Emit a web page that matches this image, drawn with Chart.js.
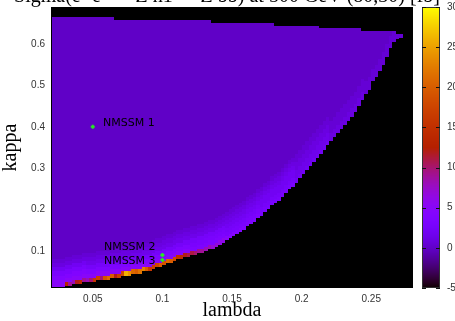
<!DOCTYPE html>
<html><head><meta charset="utf-8">
<script src="https://cdn.jsdelivr.net/npm/chart.js@4/dist/chart.umd.min.js"></script>
<style>html,body{margin:0;padding:0;background:#fff;overflow:hidden}canvas{display:block}</style>
</head><body><canvas id="c" width="455" height="321"></canvas>
<script>
// ---------- data ----------
const titleText = "Sigma(e+e- -> Z h1 -> Z bb) at 500 GeV (80,30) [fb]";
const xTicks = [0.05, 0.1, 0.15, 0.2, 0.25];
const yTicks = [0.1, 0.2, 0.3, 0.4, 0.5, 0.6];
const cbTicks = [-5, 0, 5, 10, 15, 20, 25, 30];
const lambdaRange = [0.02, 0.28];
const kappaRange = [0.01, 0.69];
const colorRange = [-5, 30];
const lambdaGridStart = 0.02;
const lambdaGridStep = 0.0025;
const kappaCell = 0.01;
// lower edge (kappa) of the allowed region, one value per lambda column
const kappaLow = [
  0.01,0.01,0.01,0.01,0.015,0.015,0.02,0.02,0.02,0.025,
  0.025,0.025,0.025,0.03,0.03,0.03,0.03,0.035,0.035,0.035,
  0.04,0.04,0.04,0.045,0.045,0.045,0.05,0.05,0.05,0.055,
  0.06,0.06,0.065,0.07,0.07,0.075,0.08,0.08,0.085,0.085,
  0.09,0.09,0.095,0.095,0.10,0.105,0.105,0.11,0.115,0.12,
  0.125,0.13,0.135,0.14,0.145,0.15,0.16,0.165,0.17,0.18,
  0.185,0.195,0.20,0.21,0.215,0.22,0.23,0.24,0.25,0.255,
  0.265,0.275,0.285,0.295,0.305,0.315,0.325,0.335,0.345,0.355,
  0.365,0.375,0.385,0.395,0.405,0.415,0.425,0.435,0.45,0.465,
  0.48,0.49,0.51,0.52,0.535,0.55,0.57,0.59,0.605,0.612,
  0.615
];
// upper edge (kappa) of the allowed region, as steps in lambda
const kappaTopUntil = [0.0645, 0.1355, 0.179, 0.212, 0.242, 0.267, 0.2725];
const kappaTopValue = [0.665, 0.659, 0.652, 0.644, 0.638, 0.631, 0.624];
// sigma [fb] in the cell just above the lower edge, one per column
const edgeValues = [
  5,5,5,5,13,9,8,12,14,9,
  8,10,16,17,10,19,21,20,12,17,
  18,26,24,21,20,22,23,20,16,17,
  18,20,19,21,20,18,15,14,12,11,
  11,10,9,9,8,8,7,7,6,6,
  5,4.5,4.5,4,4,4,3.5,3.5,3.5,3.5,
  3,3,3,3,3,3,3,3,3,3,
  2,2,2,2,2,2,2,2,2,2,
  1,1,1,1,1,1,1,1,1,1,
  0.5,0.5,0.5,0.5,0.5,0.5,0.5,0.5,0.5,0.5,
  0.5
];
// sigma [fb] in the cells above the edge cell, per lambda band of 10 columns
const glowValues = [
  [5,4,3,2,1,0.5],
  [5,3.5,2.5,1.5,1,0.5],
  [5,3.5,2.5,1.5,1,0.5],
  [4.5,3.5,2.5,1.5,1,0.5],
  [3.5,3,2.5,1.5,1,0.5],
  [3,2.5,2,1.5,1,0.5],
  [2.5,2,2,1.5,1,0.5],
  [1.5,1.5,1,1,0.5,0.5],
  [1,0.5,0.5,0.5,0,0],
  [0.5,0.5,0,0,0,0],
  [0.5,0,0,0,0,0]
];
const bulkValue = 0;
const pointNames = ["NMSSM 1", "NMSSM 2", "NMSSM 3"];
const pointLambda = [0.05, 0.1, 0.1];
const pointKappa = [0.40, 0.09, 0.078];
const labelLambda = [0.0574, 0.058, 0.058];
const labelKappa = [0.4095, 0.109, 0.0754];

// ---------- drawing ----------
function palette(v) {
  let x = (v - colorRange[0]) / (colorRange[1] - colorRange[0]);
  x = Math.max(0, Math.min(1, x));
  const r = Math.sqrt(x), g = x * x * x, b = Math.max(0, Math.sin(2 * Math.PI * x));
  return 'rgb(' + Math.round(r * 255) + ',' + Math.round(g * 255) + ',' + Math.round(b * 255) + ')';
}
function topFor(lc) {
  for (let j = 0; j < kappaTopUntil.length; j++) if (lc < kappaTopUntil[j]) return kappaTopValue[j];
  return null;
}

const heatmap = {
  id: 'heatmap',
  beforeDatasetsDraw(chart) {
    const {ctx, chartArea: a, scales: {x, y}} = chart;
    ctx.save();
    ctx.fillStyle = '#000';
    ctx.fillRect(a.left, a.top, a.right - a.left, a.bottom - a.top);
    ctx.beginPath(); ctx.rect(a.left, a.top, a.right - a.left, a.bottom - a.top); ctx.clip();
    const rect = (l0, l1, k0, k1, v) => {
      const px0 = Math.round(x.getPixelForValue(l0)), px1 = Math.round(x.getPixelForValue(l1));
      const py0 = Math.round(y.getPixelForValue(k1)), py1 = Math.round(y.getPixelForValue(k0));
      if (py1 <= py0) return;
      ctx.fillStyle = palette(v);
      ctx.fillRect(px0, py0, px1 - px0, py1 - py0);
    };
    for (let i = 0; i < kappaLow.length; i++) {
      const l0 = lambdaGridStart + i * lambdaGridStep, l1 = l0 + lambdaGridStep;
      const kTop = topFor(l0 + lambdaGridStep / 2);
      if (kTop === null) continue;
      const kLo = kappaLow[i];
      rect(l0, l1, kLo, kTop, bulkValue);
      const g = glowValues[Math.floor(i / 10)];
      for (let r = g.length - 1; r >= 0; r--) {
        const k0 = kLo + kappaCell * (r + 1), k1 = Math.min(kTop, k0 + kappaCell);
        if (k0 < kTop) rect(l0, l1, k0, k1, g[r]);
      }
      rect(l0, l1, kLo, Math.min(kTop, kLo + kappaCell), edgeValues[i]);
    }
    ctx.restore();
  },
  afterDatasetsDraw(chart) {
    const {ctx, chartArea: a, scales: {x, y, cb}} = chart;
    ctx.save();
    // point labels
    ctx.font = '11px "DejaVu Sans"';
    ctx.fillStyle = '#000';
    ctx.textAlign = 'left';
    ctx.textBaseline = 'middle';
    pointNames.forEach((n, i) => ctx.fillText(n, x.getPixelForValue(labelLambda[i]), y.getPixelForValue(labelKappa[i])));
    // frame
    ctx.strokeStyle = '#000';
    ctx.lineWidth = 1;
    ctx.strokeRect(a.left + 0.5, a.top + 0.5, a.right - a.left - 1, a.bottom - a.top - 1);
    // colour box
    const bx = 422, bw = 18;
    const t = Math.round(cb.getPixelForValue(colorRange[1])), b = Math.round(cb.getPixelForValue(colorRange[0]));
    for (let py = t; py < b; py++) {
      ctx.fillStyle = palette(cb.getValueForPixel(py + 0.5));
      ctx.fillRect(bx, py, bw, 1);
    }
    ctx.strokeStyle = '#333';
    ctx.strokeRect(bx + 0.5, t + 0.5, bw - 1, b - t - 1);
    ctx.strokeStyle = '#111';
    cbTicks.forEach(v => {
      const py = Math.round(cb.getPixelForValue(v)) + 0.5;
      ctx.beginPath();
      ctx.moveTo(bx, py); ctx.lineTo(bx + 4, py);
      ctx.moveTo(bx + bw - 4, py); ctx.lineTo(bx + bw, py);
      ctx.stroke();
    });
    // title
    ctx.font = '20px "Liberation Serif"';
    ctx.fillStyle = '#000';
    ctx.textAlign = 'center';
    ctx.textBaseline = 'alphabetic';
    ctx.fillText(titleText, 227, 2);
    ctx.restore();
  }
};

const tickFont = {family: '"Liberation Sans", Arial, sans-serif', size: 10};
const fixTicks = arr => (s => { s.ticks = arr.map(v => ({value: v})); });
const fmt = v => String(Math.round(v * 1000) / 1000);
const fitV = w => (s => { s.width = w; s.paddingTop = 0; s.paddingBottom = 0; });

new Chart(document.getElementById('c'), {
  type: 'scatter',
  data: {
    datasets: [{
      data: pointLambda.map((l, i) => ({x: l, y: pointKappa[i]})),
      pointStyle: 'cross',
      radius: 2,
      borderWidth: 2,
      borderColor: 'rgb(40,230,40)',
      backgroundColor: 'rgb(40,230,40)'
    }]
  },
  plugins: [heatmap],
  options: {
    responsive: false,
    animation: false,
    devicePixelRatio: 1,
    layout: {padding: {top: 7, left: 0, right: 0, bottom: 0}},
    plugins: {legend: {display: false}, tooltip: {enabled: false}, title: {display: false}},
    scales: {
      x: {
        type: 'linear', min: lambdaRange[0], max: lambdaRange[1],
        grid: {display: false, drawTicks: false}, border: {display: false},
        afterBuildTicks: fixTicks(xTicks),
        afterFit: s => { s.height = 33; s.paddingLeft = 0; s.paddingRight = 0; },
        ticks: {font: tickFont, color: '#333', padding: 5, maxRotation: 0, autoSkip: false, callback: fmt},
        title: {display: true, text: 'lambda', color: '#000', font: {family: '"Liberation Serif", serif', size: 20}, padding: {top: 0, bottom: -2}}
      },
      y: {
        type: 'linear', position: 'left', min: kappaRange[0], max: kappaRange[1],
        grid: {display: false, drawTicks: false}, border: {display: false},
        afterBuildTicks: fixTicks(yTicks),
        afterFit: fitV(51),
        ticks: {font: tickFont, color: '#333', padding: 6, autoSkip: false, callback: fmt},
        title: {display: true, text: 'kappa', color: '#000', font: {family: '"Liberation Serif", serif', size: 20}, padding: {top: -1, bottom: 0}}
      },
      cb: {
        type: 'linear', axis: 'y', position: 'right', min: colorRange[0], max: colorRange[1],
        grid: {display: false, drawTicks: false}, border: {display: false},
        afterBuildTicks: fixTicks(cbTicks),
        afterFit: fitV(42),
        ticks: {font: tickFont, color: '#333', padding: 34, autoSkip: false, callback: fmt}
      }
    }
  }
});
</script>
</body></html>
